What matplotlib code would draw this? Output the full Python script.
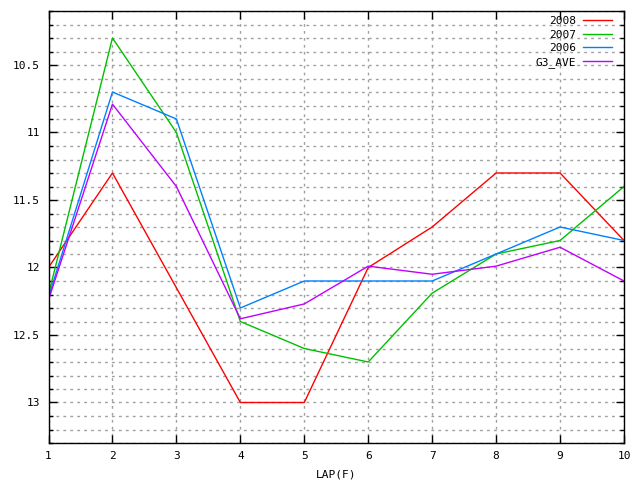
import matplotlib
matplotlib.use("Agg")
import matplotlib.pyplot as plt
from matplotlib.ticker import MultipleLocator

# lap times per lap (LAP(F))
laps = [1, 2, 3, 4, 5, 6, 7, 8, 9, 10]
y2008 = [12.0, 11.3, 12.15, 13.0, 13.0, 12.0, 11.7, 11.3, 11.3, 11.8]
y2007 = [12.2, 10.3, 11.0, 12.4, 12.6, 12.7, 12.19, 11.9, 11.8, 11.4]
y2006 = [12.22, 10.7, 10.9, 12.3, 12.1, 12.1, 12.1, 11.9, 11.7, 11.8]
g3_ave = [12.24, 10.79, 11.4, 12.38, 12.27, 11.99, 12.05, 11.99, 11.85, 12.1]

series = [("2008", y2008, "#ff0000"),
          ("2007", y2007, "#00c000"),
          ("2006", y2006, "#0080ff"),
          ("G3_AVE", g3_ave, "#c000ff")]

plt.rcParams["font.family"] = "DejaVu Sans Mono"
plt.rcParams["font.size"] = 8

fig = plt.figure(figsize=(6.4, 4.8), dpi=100)
ax = fig.add_axes([48.5 / 640, 37 / 480, 575.5 / 640, 432 / 480])

for name, vals, col in series:
    ax.plot(laps, vals, color=col, lw=1, label=name)

ax.set_xlim(1, 10)
ax.set_ylim(13.3, 10.1)
ax.xaxis.set_major_locator(MultipleLocator(1))
ax.yaxis.set_minor_locator(MultipleLocator(0.1))
ax.set_yticks([10.5, 11, 11.5, 12, 12.5, 13])
ax.set_yticklabels(["10.5", "11", "11.5", "12", "12.5", "13"])

ax.grid(True, which="major", axis="x", color="#a0a0a0", ls=(0, (2, 3)), lw=1)
ax.grid(True, which="both", axis="y", color="#a0a0a0", ls=(0, (2, 3)), lw=1)
ax.tick_params(which="both", direction="in", top=True, right=True, width=1)
ax.tick_params(which="major", length=6, pad=6)
ax.tick_params(which="minor", length=3)
for s in ax.spines.values():
    s.set_linewidth(1)

ax.set_xlabel("LAP(F)", labelpad=6)

ax.legend(loc="upper right", bbox_to_anchor=(612 / 640, 464 / 480),
          bbox_transform=fig.transFigure, frameon=False, markerfirst=False,
          handlelength=2.6, handletextpad=0.6, labelspacing=0.33,
          borderaxespad=0, borderpad=0)

fig.savefig("out.png", dpi=100)
